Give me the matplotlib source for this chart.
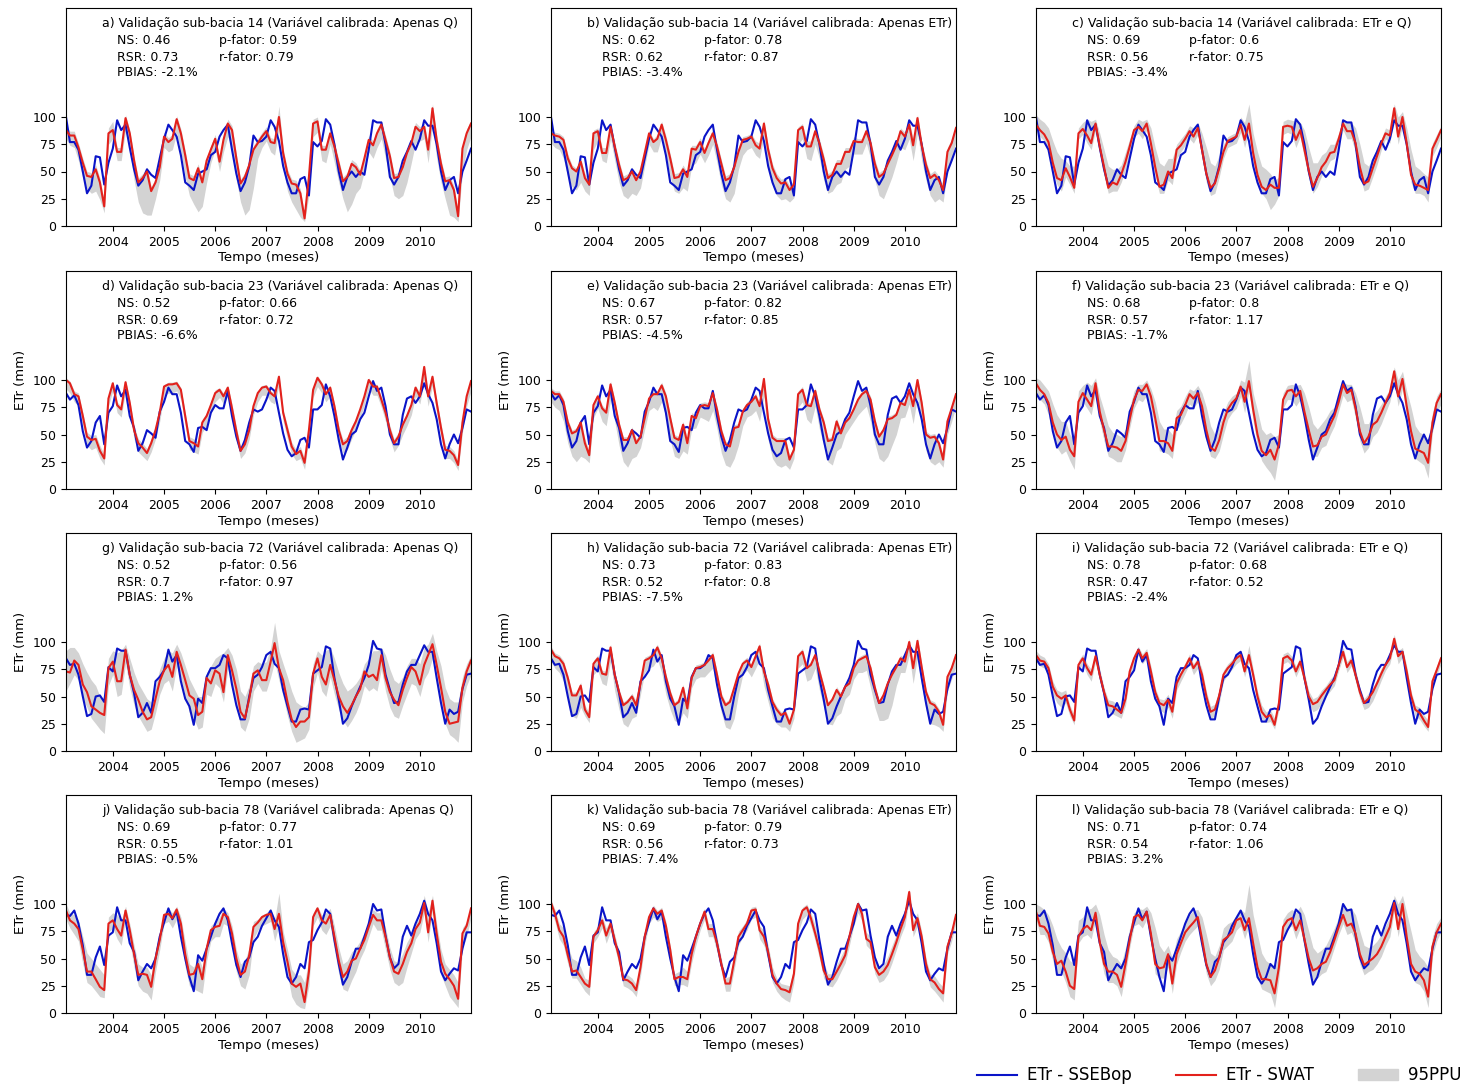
import matplotlib
matplotlib.use("Agg")
import matplotlib.pyplot as plt
import matplotlib.dates as mdates
from matplotlib.lines import Line2D
from matplotlib.patches import Patch
import pandas as pd

# monthly series, Jan 2003 .. Dec 2010 (one row per year)
dates = pd.date_range("2003-01-31", periods=96, freq="ME")

# ETr SSEBop (observed) per sub-basin
blue_14 = [100, 77, 77, 70, 50, 30, 37, 64, 63, 38, 58, 71,
           97, 88, 93, 72, 52, 37, 42, 52, 47, 44, 62, 80,
           93, 88, 82, 65, 40, 37, 33, 48, 50, 52, 65, 68,
           82, 88, 93, 70, 48, 32, 40, 55, 83, 77, 78, 82,
           97, 91, 78, 55, 40, 30, 30, 43, 45, 28, 77, 73,
           78, 98, 93, 75, 50, 33, 45, 50, 45, 50, 47, 70,
           97, 95, 95, 75, 45, 38, 45, 60, 68, 78, 70, 80,
           97, 92, 92, 75, 50, 33, 42, 45, 30, 50, 60, 71]
blue_23 = [88, 82, 86, 77, 53, 38, 44, 61, 67, 41, 70, 76,
           95, 85, 91, 67, 56, 35, 42, 54, 51, 47, 71, 80,
           93, 87, 87, 70, 44, 41, 34, 56, 57, 54, 70, 77,
           74, 74, 90, 67, 48, 35, 45, 61, 73, 71, 73, 82,
           93, 90, 70, 51, 36, 30, 33, 45, 47, 38, 73, 73,
           77, 96, 85, 67, 45, 27, 38, 50, 53, 64, 70, 85,
           99, 90, 93, 76, 50, 41, 41, 68, 83, 85, 79, 85,
           97, 87, 79, 64, 41, 28, 41, 50, 42, 56, 73, 71]
blue_72 = [85, 79, 80, 70, 50, 32, 34, 50, 51, 45, 77, 73,
           94, 92, 92, 70, 53, 31, 35, 44, 35, 64, 68, 74,
           93, 82, 88, 64, 48, 41, 24, 48, 44, 68, 76, 76,
           79, 88, 85, 61, 42, 29, 29, 50, 67, 70, 77, 88,
           91, 80, 76, 56, 41, 27, 27, 38, 39, 38, 71, 74,
           77, 96, 94, 67, 47, 25, 30, 41, 50, 59, 67, 79,
           101, 94, 93, 70, 56, 44, 45, 61, 73, 79, 79, 88,
           97, 91, 91, 67, 44, 25, 38, 34, 36, 57, 70, 71]
blue_78 = [90, 89, 94, 82, 62, 35, 35, 51, 61, 44, 71, 74,
           97, 85, 85, 64, 56, 30, 38, 45, 41, 50, 70, 83,
           96, 86, 93, 70, 50, 33, 20, 53, 48, 59, 70, 82,
           91, 96, 85, 64, 44, 33, 47, 51, 65, 70, 80, 87,
           94, 85, 79, 54, 33, 27, 33, 45, 41, 65, 67, 76,
           83, 95, 91, 67, 45, 26, 33, 47, 59, 59, 70, 82,
           100, 94, 95, 71, 51, 41, 45, 70, 80, 71, 82, 91,
           103, 91, 85, 64, 38, 30, 36, 41, 39, 59, 74, 74]

# ETr SWAT (simulated) per panel
red_a = [88, 83, 83, 72, 58, 46, 45, 52, 40, 18, 85, 88,
         68, 68, 99, 85, 60, 40, 44, 50, 32, 40, 54, 82,
         77, 80, 98, 85, 65, 44, 42, 53, 40, 60, 70, 80,
         59, 79, 94, 88, 62, 39, 45, 56, 70, 76, 82, 87,
         77, 76, 100, 67, 48, 39, 38, 30, 7, 45, 94, 96,
         70, 70, 85, 73, 57, 41, 45, 57, 54, 47, 62, 79,
         74, 85, 93, 79, 64, 44, 45, 54, 67, 76, 91, 87,
         91, 70, 108, 79, 57, 41, 42, 33, 9, 71, 85, 94]
red_b = [85, 83, 82, 79, 62, 53, 50, 59, 44, 38, 85, 87,
         67, 67, 91, 73, 56, 42, 44, 50, 42, 50, 67, 85,
         77, 80, 93, 79, 62, 44, 45, 52, 45, 71, 70, 77,
         67, 76, 85, 73, 57, 42, 44, 54, 68, 79, 80, 82,
         74, 71, 94, 70, 53, 44, 39, 40, 33, 38, 88, 91,
         73, 73, 87, 76, 61, 44, 47, 57, 57, 68, 68, 78,
         77, 77, 87, 76, 57, 45, 48, 57, 65, 74, 87, 82,
         93, 74, 99, 74, 56, 44, 47, 42, 33, 68, 76, 90]
red_c = [93, 88, 84, 77, 58, 44, 42, 53, 45, 35, 85, 89,
         83, 76, 94, 73, 54, 35, 40, 38, 47, 59, 73, 88,
         91, 87, 94, 76, 54, 36, 38, 50, 44, 70, 74, 80,
         87, 82, 90, 70, 48, 35, 39, 53, 68, 78, 80, 82,
         93, 79, 94, 67, 47, 36, 33, 38, 35, 35, 91, 92,
         91, 79, 88, 70, 51, 36, 44, 54, 59, 67, 68, 80,
         94, 87, 87, 76, 54, 39, 41, 53, 64, 76, 85, 83,
         108, 82, 100, 76, 47, 38, 37, 35, 33, 71, 79, 88]
red_d = [100, 97, 87, 85, 67, 48, 45, 46, 35, 28, 83, 97,
         77, 73, 98, 79, 54, 42, 38, 33, 42, 54, 70, 94,
         96, 96, 97, 91, 67, 44, 42, 39, 61, 67, 77, 88,
         91, 85, 93, 74, 53, 35, 41, 54, 76, 88, 93, 94,
         88, 85, 103, 70, 54, 39, 32, 35, 24, 54, 91, 102,
         96, 87, 93, 76, 54, 41, 44, 54, 62, 73, 85, 100,
         94, 94, 82, 70, 54, 42, 48, 59, 67, 77, 93, 85,
         112, 85, 103, 79, 56, 36, 35, 31, 22, 61, 85, 99]
red_e = [90, 87, 87, 80, 61, 51, 53, 61, 42, 31, 77, 85,
         74, 70, 96, 79, 59, 45, 45, 54, 42, 48, 65, 83,
         87, 87, 95, 85, 65, 47, 45, 59, 42, 67, 65, 76,
         77, 76, 88, 73, 53, 41, 39, 56, 57, 71, 77, 80,
         85, 76, 101, 64, 47, 44, 44, 44, 27, 36, 87, 91,
         77, 76, 90, 73, 61, 44, 45, 62, 51, 61, 65, 73,
         82, 87, 90, 82, 62, 48, 54, 64, 65, 68, 79, 77,
         91, 76, 100, 79, 50, 47, 48, 42, 27, 62, 74, 87]
red_f = [97, 91, 87, 79, 61, 50, 45, 48, 36, 30, 80, 88,
         82, 76, 97, 71, 54, 39, 39, 38, 35, 44, 64, 82,
         91, 90, 96, 85, 65, 44, 44, 42, 35, 65, 68, 77,
         87, 83, 88, 76, 54, 38, 35, 45, 61, 73, 79, 83,
         94, 80, 99, 73, 50, 35, 31, 36, 27, 41, 82, 90,
         91, 85, 90, 71, 54, 39, 40, 48, 50, 59, 67, 80,
         96, 88, 91, 74, 53, 42, 48, 59, 62, 70, 79, 88,
         108, 85, 101, 76, 53, 37, 35, 33, 24, 61, 79, 87]
red_g = [73, 72, 83, 79, 61, 54, 41, 38, 35, 33, 76, 82,
         64, 64, 93, 70, 56, 47, 36, 29, 31, 48, 64, 74,
         79, 68, 91, 79, 65, 51, 48, 33, 36, 67, 62, 74,
         71, 54, 88, 74, 57, 36, 30, 48, 71, 74, 65, 65,
         82, 99, 76, 65, 45, 29, 22, 27, 27, 31, 71, 85,
         68, 61, 79, 65, 50, 41, 35, 42, 50, 57, 73, 68,
         70, 65, 88, 67, 54, 47, 42, 56, 67, 77, 73, 61,
         79, 88, 98, 79, 58, 36, 25, 26, 27, 58, 73, 83]
red_h = [93, 87, 85, 80, 67, 51, 51, 60, 38, 31, 80, 85,
         71, 70, 95, 70, 54, 42, 45, 50, 42, 62, 83, 85,
         88, 95, 85, 68, 53, 42, 45, 58, 39, 67, 76, 77,
         79, 83, 88, 70, 50, 42, 45, 58, 71, 80, 83, 77,
         87, 96, 73, 61, 45, 38, 33, 35, 25, 38, 87, 91,
         76, 79, 88, 73, 58, 42, 47, 56, 50, 59, 62, 76,
         83, 85, 87, 76, 58, 44, 51, 62, 70, 77, 85, 82,
         100, 76, 101, 77, 54, 44, 42, 36, 24, 68, 76, 88]
red_i = [88, 83, 82, 76, 59, 51, 48, 51, 38, 28, 79, 85,
         76, 70, 87, 70, 54, 42, 41, 38, 35, 48, 73, 85,
         93, 85, 90, 73, 54, 44, 42, 47, 36, 62, 70, 77,
         85, 76, 82, 70, 50, 36, 38, 51, 70, 76, 80, 85,
         88, 73, 88, 70, 50, 36, 31, 33, 24, 44, 85, 87,
         83, 73, 82, 67, 50, 43, 45, 51, 56, 61, 65, 79,
         91, 77, 83, 70, 54, 44, 48, 54, 62, 71, 79, 85,
         103, 87, 91, 73, 51, 38, 35, 28, 22, 64, 74, 85]
red_j = [94, 85, 82, 77, 58, 38, 38, 31, 24, 21, 82, 85,
         77, 71, 94, 76, 54, 35, 36, 35, 24, 50, 67, 90,
         91, 87, 95, 82, 54, 35, 36, 45, 31, 59, 76, 79,
         80, 91, 88, 73, 50, 35, 38, 53, 79, 83, 88, 90,
         91, 77, 91, 65, 47, 27, 24, 27, 10, 38, 88, 96,
         85, 82, 90, 70, 48, 33, 38, 48, 50, 59, 67, 79,
         90, 85, 85, 70, 51, 38, 36, 45, 56, 64, 77, 83,
         101, 74, 103, 73, 47, 36, 31, 25, 13, 73, 80, 96]
red_k = [101, 91, 76, 70, 53, 38, 39, 33, 27, 24, 70, 76,
         85, 71, 82, 67, 51, 31, 30, 27, 21, 42, 70, 88,
         96, 91, 94, 80, 58, 31, 33, 33, 31, 54, 70, 82,
         93, 77, 77, 64, 45, 27, 27, 48, 70, 76, 82, 94,
         95, 76, 70, 56, 35, 27, 22, 21, 19, 36, 82, 94,
         97, 87, 73, 58, 39, 31, 31, 38, 45, 53, 70, 88,
         100, 91, 68, 65, 42, 35, 38, 44, 54, 65, 77, 88,
         111, 76, 87, 70, 45, 31, 28, 22, 18, 61, 73, 90]
red_l = [93, 80, 79, 73, 56, 45, 48, 38, 25, 22, 70, 77,
         80, 76, 92, 65, 45, 38, 38, 35, 24, 45, 67, 88,
         90, 85, 93, 73, 45, 41, 42, 54, 27, 54, 64, 74,
         79, 83, 88, 68, 45, 33, 39, 51, 67, 70, 74, 85,
         87, 76, 87, 64, 42, 31, 31, 30, 18, 42, 79, 85,
         87, 76, 85, 68, 50, 39, 41, 45, 47, 56, 67, 79,
         90, 80, 82, 73, 54, 44, 47, 50, 54, 61, 70, 79,
         101, 77, 100, 70, 45, 38, 36, 30, 15, 61, 74, 82]

# 95PPU band limits per panel
lo_a = [80, 74, 72, 60, 44, 34, 30, 32, 24, 12, 75, 80,
        60, 60, 88, 70, 42, 22, 12, 10, 10, 25, 42, 72,
        68, 70, 85, 68, 45, 28, 20, 13, 18, 40, 58, 70,
        50, 68, 82, 72, 42, 22, 10, 15, 35, 62, 72, 78,
        68, 65, 88, 52, 32, 22, 15, 8, 4, 28, 82, 86,
        60, 58, 75, 58, 40, 25, 13, 20, 30, 35, 50, 68,
        62, 72, 80, 62, 45, 28, 25, 28, 40, 58, 76, 78,
        80, 58, 92, 62, 40, 25, 10, 8, 4, 50, 70, 82]
hi_a = [92, 87, 87, 76, 62, 50, 49, 56, 44, 22, 90, 96,
        72, 72, 102, 88, 64, 44, 48, 54, 36, 44, 58, 86,
        81, 84, 101, 89, 69, 48, 46, 57, 44, 63, 74, 84,
        63, 83, 98, 92, 66, 43, 49, 60, 74, 80, 86, 91,
        81, 80, 110, 71, 52, 43, 42, 34, 10, 49, 98, 100,
        74, 74, 89, 77, 61, 45, 49, 61, 58, 51, 66, 83,
        78, 89, 97, 83, 68, 48, 49, 58, 71, 80, 95, 91,
        95, 74, 112, 83, 61, 45, 46, 37, 13, 75, 89, 97]
lo_b = [76, 72, 70, 62, 45, 36, 33, 40, 32, 28, 70, 78,
        60, 58, 80, 60, 40, 28, 25, 30, 28, 35, 55, 75,
        68, 68, 82, 65, 45, 32, 30, 35, 32, 55, 58, 66,
        58, 65, 75, 58, 38, 25, 22, 30, 52, 65, 70, 72,
        65, 62, 82, 55, 38, 28, 24, 25, 22, 26, 75, 80,
        62, 60, 75, 62, 42, 30, 32, 38, 40, 52, 55, 66,
        66, 66, 76, 62, 42, 28, 25, 35, 45, 58, 72, 70,
        80, 60, 85, 60, 42, 28, 22, 25, 22, 50, 62, 78]
hi_b = [88, 86, 85, 82, 66, 56, 53, 62, 48, 42, 88, 90,
        72, 72, 94, 77, 60, 46, 48, 54, 46, 54, 70, 88,
        80, 84, 96, 83, 66, 48, 49, 56, 49, 74, 74, 81,
        71, 80, 89, 77, 61, 46, 48, 58, 72, 82, 83, 85,
        78, 76, 97, 74, 57, 48, 43, 44, 37, 42, 91, 94,
        78, 78, 90, 80, 65, 48, 51, 61, 61, 72, 72, 82,
        80, 80, 90, 80, 61, 49, 52, 61, 69, 78, 90, 86,
        97, 80, 102, 78, 60, 48, 51, 46, 37, 72, 80, 93]
lo_c = [88, 82, 78, 70, 50, 38, 32, 45, 38, 30, 80, 84,
        76, 70, 88, 66, 46, 30, 32, 32, 40, 52, 66, 82,
        85, 80, 88, 68, 46, 30, 30, 42, 38, 62, 68, 74,
        80, 76, 84, 62, 40, 28, 30, 45, 62, 72, 74, 76,
        86, 72, 88, 58, 38, 30, 25, 15, 20, 28, 84, 86,
        84, 72, 82, 62, 44, 30, 36, 46, 52, 60, 62, 74,
        88, 80, 80, 68, 46, 32, 34, 45, 56, 70, 80, 76,
        100, 75, 92, 68, 40, 30, 30, 28, 22, 64, 72, 82]
hi_c = [102, 98, 95, 90, 78, 68, 62, 60, 55, 55, 90, 95,
        98, 96, 98, 85, 70, 55, 52, 52, 56, 68, 80, 92,
        98, 96, 98, 90, 72, 58, 55, 62, 62, 75, 80, 85,
        92, 90, 95, 85, 72, 58, 55, 65, 75, 82, 84, 86,
        100, 95, 112, 85, 68, 55, 52, 48, 42, 45, 96, 98,
        97, 96, 95, 88, 72, 58, 58, 65, 68, 75, 75, 85,
        98, 96, 95, 90, 75, 58, 55, 62, 72, 80, 90, 88,
        112, 100, 105, 90, 70, 55, 52, 48, 45, 76, 84, 92]
lo_d = [92, 88, 80, 76, 58, 40, 36, 38, 28, 22, 76, 90,
        70, 66, 90, 70, 46, 34, 30, 26, 34, 46, 62, 86,
        88, 88, 90, 82, 58, 36, 34, 32, 52, 58, 70, 80,
        84, 78, 85, 66, 45, 28, 33, 46, 68, 80, 86, 86,
        80, 78, 95, 62, 46, 32, 26, 28, 18, 46, 84, 94,
        88, 80, 85, 68, 46, 33, 36, 46, 54, 65, 77, 92,
        86, 86, 75, 62, 46, 34, 40, 50, 58, 68, 85, 78,
        100, 76, 95, 70, 48, 28, 28, 24, 17, 52, 76, 90]
hi_d = [102, 99, 90, 88, 70, 52, 49, 50, 40, 32, 86, 99,
        80, 76, 100, 82, 58, 46, 42, 37, 46, 58, 73, 96,
        98, 98, 99, 93, 70, 48, 46, 43, 64, 70, 80, 91,
        93, 88, 95, 78, 57, 39, 45, 58, 79, 90, 95, 96,
        90, 88, 105, 73, 58, 43, 36, 39, 28, 58, 94, 104,
        98, 90, 95, 79, 58, 45, 48, 58, 65, 76, 88, 102,
        96, 96, 85, 73, 58, 46, 52, 62, 70, 80, 95, 88,
        112, 88, 105, 82, 60, 40, 39, 35, 26, 64, 88, 101]
lo_e = [80, 75, 72, 62, 42, 30, 25, 30, 28, 24, 65, 74,
        62, 58, 82, 62, 40, 25, 20, 28, 30, 38, 55, 72,
        75, 72, 80, 66, 45, 30, 28, 35, 32, 55, 56, 66,
        64, 62, 72, 55, 33, 22, 20, 28, 40, 58, 66, 68,
        72, 62, 85, 45, 28, 22, 20, 22, 18, 28, 75, 80,
        64, 60, 76, 55, 40, 25, 22, 35, 38, 50, 56, 62,
        68, 72, 76, 62, 42, 28, 25, 30, 40, 50, 65, 66,
        78, 60, 85, 60, 35, 25, 22, 25, 20, 50, 62, 76]
hi_e = [93, 90, 90, 83, 64, 54, 56, 64, 46, 35, 80, 88,
        77, 73, 99, 82, 62, 48, 48, 57, 46, 51, 68, 86,
        90, 90, 98, 88, 68, 50, 48, 62, 46, 70, 68, 79,
        80, 79, 91, 76, 56, 44, 42, 59, 60, 74, 80, 83,
        88, 79, 103, 67, 50, 47, 47, 47, 31, 40, 90, 94,
        80, 79, 93, 76, 64, 47, 48, 65, 54, 64, 68, 76,
        85, 90, 93, 85, 65, 51, 57, 67, 68, 71, 82, 80,
        94, 79, 102, 82, 53, 50, 51, 45, 31, 65, 77, 90]
lo_f = [88, 82, 78, 68, 50, 38, 32, 35, 26, 18, 72, 80,
        74, 68, 88, 62, 44, 30, 28, 25, 25, 36, 56, 74,
        82, 80, 86, 74, 55, 35, 34, 32, 28, 55, 60, 68,
        78, 74, 80, 66, 44, 30, 28, 35, 50, 64, 70, 74,
        85, 70, 90, 62, 40, 26, 20, 15, 8, 32, 74, 82,
        82, 76, 82, 62, 44, 30, 30, 38, 40, 50, 58, 72,
        86, 80, 82, 65, 44, 33, 38, 48, 52, 60, 70, 80,
        98, 76, 92, 66, 44, 28, 25, 22, 10, 52, 70, 78]
hi_f = [102, 100, 95, 90, 78, 68, 62, 62, 50, 45, 90, 95,
        98, 95, 102, 85, 72, 58, 52, 50, 48, 55, 75, 90,
        96, 96, 100, 92, 80, 62, 55, 55, 50, 72, 76, 85,
        92, 90, 95, 88, 75, 58, 50, 58, 70, 80, 85, 88,
        100, 98, 118, 88, 72, 55, 50, 52, 48, 50, 88, 95,
        96, 95, 96, 88, 75, 60, 55, 60, 65, 72, 75, 85,
        98, 96, 96, 88, 75, 60, 60, 68, 72, 78, 85, 92,
        112, 100, 108, 90, 75, 58, 52, 50, 45, 70, 85, 92]
lo_g = [55, 62, 70, 65, 48, 40, 30, 25, 20, 16, 60, 70,
        50, 52, 80, 58, 42, 32, 25, 18, 20, 35, 52, 62,
        65, 55, 78, 65, 50, 35, 30, 20, 22, 52, 50, 62,
        58, 45, 75, 60, 42, 22, 18, 30, 55, 62, 55, 55,
        68, 82, 65, 50, 32, 18, 8, 10, 12, 20, 58, 72,
        55, 50, 68, 52, 38, 28, 22, 28, 35, 45, 60, 55,
        58, 55, 75, 55, 40, 32, 30, 42, 52, 62, 60, 50,
        66, 72, 85, 65, 45, 25, 15, 12, 8, 45, 60, 70]
hi_g = [92, 95, 95, 90, 80, 72, 65, 60, 50, 45, 85, 92,
        90, 92, 98, 85, 72, 62, 55, 48, 45, 60, 75, 85,
        92, 90, 98, 90, 78, 66, 58, 50, 50, 72, 78, 85,
        88, 90, 95, 88, 75, 55, 50, 60, 78, 82, 80, 82,
        95, 118, 92, 80, 68, 55, 45, 42, 40, 45, 80, 92,
        88, 92, 95, 85, 72, 62, 55, 58, 62, 68, 80, 85,
        92, 92, 95, 88, 75, 65, 62, 68, 78, 85, 85, 80,
        95, 98, 108, 92, 78, 58, 48, 45, 45, 68, 80, 88]
lo_h = [82, 76, 72, 64, 48, 32, 30, 40, 32, 26, 70, 74,
        62, 60, 82, 55, 38, 25, 22, 30, 32, 52, 72, 76,
        78, 84, 72, 52, 38, 28, 26, 35, 30, 58, 66, 68,
        68, 72, 76, 55, 35, 22, 20, 30, 52, 70, 74, 68,
        76, 84, 60, 45, 30, 25, 22, 22, 18, 30, 76, 80,
        64, 66, 76, 56, 40, 25, 24, 32, 35, 48, 52, 66,
        72, 72, 74, 58, 40, 28, 28, 30, 42, 60, 72, 72,
        88, 62, 86, 60, 38, 25, 24, 22, 18, 55, 66, 78]
hi_h = [96, 90, 88, 83, 70, 54, 54, 63, 42, 35, 83, 88,
        74, 73, 98, 73, 57, 45, 48, 53, 46, 65, 86, 88,
        91, 98, 88, 71, 56, 45, 48, 61, 43, 70, 79, 80,
        82, 86, 91, 73, 53, 45, 48, 61, 74, 83, 86, 80,
        90, 99, 76, 64, 48, 41, 36, 38, 29, 42, 90, 94,
        79, 82, 91, 76, 61, 45, 50, 59, 53, 62, 65, 79,
        86, 88, 90, 79, 61, 47, 54, 65, 73, 80, 88, 85,
        103, 79, 104, 80, 57, 47, 45, 39, 28, 71, 79, 91]
lo_i = [83, 78, 76, 70, 52, 44, 40, 44, 32, 24, 74, 80,
        70, 64, 82, 64, 48, 36, 34, 32, 30, 42, 68, 80,
        88, 80, 85, 67, 48, 38, 35, 40, 30, 56, 64, 72,
        80, 70, 76, 64, 44, 30, 32, 44, 64, 70, 75, 80,
        83, 68, 82, 64, 44, 30, 26, 27, 20, 38, 80, 82,
        78, 68, 77, 61, 44, 36, 38, 44, 50, 55, 60, 74,
        86, 72, 78, 64, 48, 38, 40, 46, 55, 65, 74, 80,
        98, 80, 86, 67, 45, 32, 29, 23, 18, 58, 69, 80]
hi_i = [92, 88, 86, 80, 64, 56, 54, 56, 42, 33, 83, 89,
        80, 75, 91, 75, 58, 47, 46, 43, 40, 52, 77, 89,
        96, 89, 94, 78, 58, 48, 47, 52, 41, 66, 74, 81,
        89, 80, 86, 75, 55, 41, 43, 56, 74, 80, 84, 89,
        92, 78, 97, 75, 55, 42, 36, 38, 30, 48, 89, 91,
        87, 78, 86, 72, 55, 48, 50, 56, 60, 66, 70, 83,
        95, 82, 87, 75, 58, 48, 53, 58, 66, 76, 83, 89,
        107, 92, 95, 78, 55, 42, 40, 33, 28, 68, 78, 89]
lo_j = [86, 78, 72, 66, 45, 28, 25, 20, 15, 14, 74, 78,
        68, 62, 86, 65, 42, 25, 20, 18, 12, 38, 58, 82,
        84, 78, 86, 70, 42, 25, 22, 20, 18, 48, 66, 70,
        70, 82, 80, 62, 38, 25, 22, 35, 68, 76, 80, 82,
        84, 66, 80, 52, 35, 15, 8, 5, 4, 25, 80, 88,
        76, 72, 80, 58, 36, 22, 20, 30, 38, 50, 58, 70,
        82, 76, 76, 58, 40, 28, 25, 28, 42, 55, 68, 74,
        92, 65, 95, 60, 35, 25, 15, 10, 5, 60, 70, 88]
hi_j = [100, 92, 90, 85, 70, 55, 50, 45, 40, 35, 88, 92,
        90, 85, 98, 82, 62, 45, 42, 42, 35, 58, 75, 92,
        96, 92, 98, 88, 65, 45, 42, 52, 42, 65, 80, 84,
        88, 96, 92, 80, 58, 45, 48, 60, 84, 86, 90, 92,
        96, 85, 110, 75, 58, 40, 35, 35, 28, 50, 92, 98,
        90, 92, 96, 80, 60, 45, 48, 56, 60, 66, 74, 84,
        95, 92, 92, 78, 60, 48, 46, 55, 65, 72, 82, 88,
        108, 92, 108, 82, 58, 45, 40, 35, 28, 78, 84, 98]
lo_k = [94, 84, 68, 62, 45, 32, 32, 26, 20, 16, 64, 70,
        78, 64, 75, 60, 44, 25, 23, 20, 15, 34, 62, 82,
        88, 84, 86, 72, 50, 25, 26, 26, 24, 46, 62, 76,
        86, 70, 70, 56, 38, 20, 20, 40, 62, 70, 76, 86,
        88, 68, 62, 48, 28, 20, 15, 12, 10, 28, 74, 86,
        90, 80, 66, 50, 32, 25, 24, 30, 38, 46, 62, 80,
        92, 84, 62, 58, 36, 28, 30, 36, 46, 58, 70, 80,
        104, 70, 80, 62, 38, 24, 20, 15, 10, 54, 66, 84]
hi_k = [104, 95, 82, 78, 62, 50, 48, 42, 32, 30, 74, 80,
        89, 78, 86, 72, 56, 36, 35, 32, 26, 48, 74, 91,
        99, 94, 97, 84, 62, 36, 38, 42, 38, 60, 74, 86,
        96, 82, 82, 70, 50, 32, 34, 54, 75, 80, 86, 97,
        98, 80, 76, 62, 42, 32, 27, 26, 25, 42, 86, 97,
        100, 92, 80, 64, 46, 36, 36, 44, 52, 60, 75, 92,
        103, 95, 74, 70, 48, 40, 44, 52, 62, 72, 82, 92,
        114, 84, 92, 75, 50, 36, 34, 28, 24, 66, 77, 94]
lo_l = [86, 72, 72, 65, 48, 36, 38, 28, 15, 12, 64, 70,
        72, 68, 85, 56, 36, 28, 28, 25, 15, 36, 60, 80,
        82, 78, 86, 65, 36, 32, 32, 42, 18, 45, 56, 66,
        72, 76, 80, 58, 36, 25, 30, 40, 58, 62, 66, 76,
        80, 68, 80, 55, 32, 22, 20, 18, 5, 32, 70, 78,
        80, 68, 78, 60, 40, 30, 32, 36, 38, 48, 60, 72,
        82, 72, 74, 64, 45, 35, 38, 40, 45, 52, 62, 70,
        94, 70, 92, 62, 36, 28, 26, 20, 5, 52, 66, 75]
hi_l = [100, 98, 95, 90, 80, 68, 60, 55, 48, 45, 85, 88,
        95, 96, 100, 90, 72, 58, 52, 50, 45, 60, 78, 92,
        96, 95, 98, 92, 78, 62, 56, 62, 50, 68, 75, 82,
        90, 94, 95, 88, 72, 55, 52, 62, 78, 82, 84, 90,
        95, 92, 118, 90, 72, 55, 48, 45, 40, 55, 86, 92,
        95, 92, 98, 90, 75, 60, 55, 58, 62, 70, 78, 88,
        98, 96, 96, 90, 75, 62, 60, 62, 66, 72, 80, 88,
        108, 100, 108, 92, 75, 58, 52, 48, 42, 70, 82, 88]

# panel metadata
letters = list("abcdefghijkl")
subbasins = [14, 14, 14, 23, 23, 23, 72, 72, 72, 78, 78, 78]
calib = ["Apenas Q", "Apenas ETr", "ETr e Q"] * 4
ns = ["0.46", "0.62", "0.69", "0.52", "0.67", "0.68",
      "0.52", "0.73", "0.78", "0.69", "0.69", "0.71"]
rsr = ["0.73", "0.62", "0.56", "0.69", "0.57", "0.57",
       "0.7", "0.52", "0.47", "0.55", "0.56", "0.54"]
pbias = ["-2.1%", "-3.4%", "-3.4%", "-6.6%", "-4.5%", "-1.7%",
         "1.2%", "-7.5%", "-2.4%", "-0.5%", "7.4%", "3.2%"]
pfator = ["0.59", "0.78", "0.6", "0.66", "0.82", "0.8",
          "0.56", "0.83", "0.68", "0.77", "0.79", "0.74"]
rfator = ["0.79", "0.87", "0.75", "0.72", "0.85", "1.17",
          "0.97", "0.8", "0.52", "1.01", "0.73", "1.06"]

obs = {14: blue_14, 23: blue_23, 72: blue_72, 78: blue_78}
sim = [red_a, red_b, red_c, red_d, red_e, red_f,
       red_g, red_h, red_i, red_j, red_k, red_l]
lower = [lo_a, lo_b, lo_c, lo_d, lo_e, lo_f, lo_g, lo_h, lo_i, lo_j, lo_k, lo_l]
upper = [hi_a, hi_b, hi_c, hi_d, hi_e, hi_f, hi_g, hi_h, hi_i, hi_j, hi_k, hi_l]

BLUE = "#0a14c8"
RED = "#e3211c"
GREY = "#d3d3d3"

W, H = 1470, 1087
fig = plt.figure(figsize=(W / 100, H / 100), dpi=100)

col_left = [66, 551, 1036]
row_bottom = [226, 489, 751, 1013]
ax_w, ax_h = 405, 218

for k in range(12):
    r, c = divmod(k, 3)
    ax = fig.add_axes([col_left[c] / W, 1 - row_bottom[r] / H, ax_w / W, ax_h / H])
    ax.fill_between(dates, lower[k], upper[k], color=GREY, lw=0)
    ax.plot(dates, obs[subbasins[k]], color=BLUE, lw=1.5)
    ax.plot(dates, sim[k], color=RED, lw=1.5)
    ax.set_xlim(dates[0], dates[-1])
    ax.set_ylim(0, 200)
    ax.set_yticks([0, 25, 50, 75, 100])
    ax.xaxis.set_major_locator(mdates.YearLocator())
    ax.xaxis.set_major_formatter(mdates.DateFormatter("%Y"))
    ax.tick_params(labelsize=9, length=3.5)
    ax.set_xlabel("Tempo (meses)", fontsize=9.5, labelpad=2)
    if r > 0:
        ax.set_ylabel("ETr (mm)", fontsize=9.5)

    ax.text(0.09, 0.927,
            f"{letters[k]}) Validação sub-bacia {subbasins[k]} (Variável calibrada: {calib[k]})",
            transform=ax.transAxes, fontsize=9, va="center", ha="left")
    ax.text(0.127, 0.849, f"NS: {ns[k]}", transform=ax.transAxes,
            fontsize=9, va="center")
    ax.text(0.378, 0.849, f"p-fator: {pfator[k]}", transform=ax.transAxes,
            fontsize=9, va="center")
    ax.text(0.127, 0.775, f"RSR: {rsr[k]}", transform=ax.transAxes,
            fontsize=9, va="center")
    ax.text(0.378, 0.775, f"r-fator: {rfator[k]}", transform=ax.transAxes,
            fontsize=9, va="center")
    ax.text(0.127, 0.702, f"PBIAS: {pbias[k]}", transform=ax.transAxes,
            fontsize=9, va="center")

handles = [Line2D([], [], color=BLUE, lw=1.5),
           Line2D([], [], color=RED, lw=1.5),
           Patch(facecolor=GREY, edgecolor=GREY)]
fig.legend(handles, ["ETr - SSEBop", "ETr - SWAT", "95PPU"],
           loc="lower left", bbox_to_anchor=(970 / W, -4 / H, 498 / W, 24 / H),
           mode="expand", borderaxespad=0, ncol=3, frameon=False,
           fontsize=12, handlelength=2.4, handletextpad=0.6)

fig.savefig("out.png", dpi=100)
